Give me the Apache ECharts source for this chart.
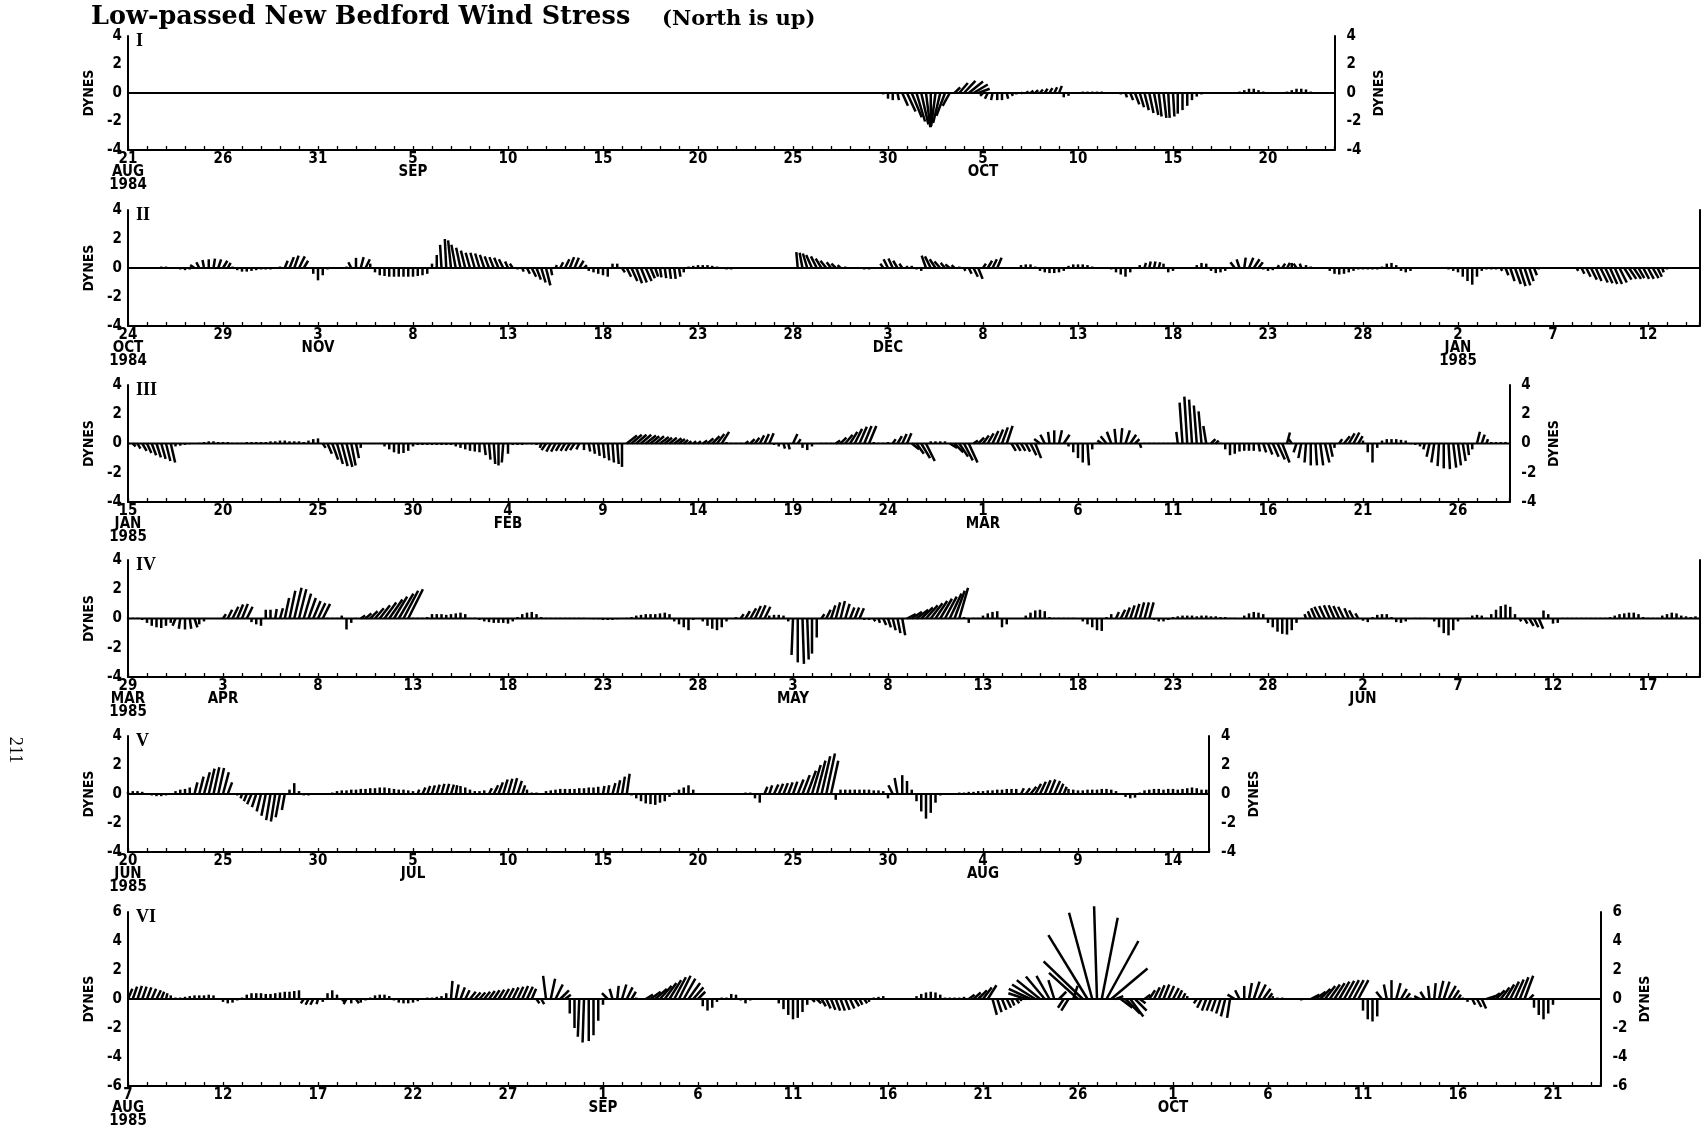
<!DOCTYPE html>
<html><head><meta charset="utf-8">
<script src="https://cdn.jsdelivr.net/npm/echarts/dist/echarts.min.js"></script>
<style>html,body{margin:0;padding:0;background:#fff}#c{width:1703px;height:1146px}</style>
</head><body><div id="c"></div>
<script>
// ---- DATA: low-passed wind stress, 6-hourly samples (v = north, u = east), dynes ----
const ticksI = ['21\nAUG\n1984','26','31','5\nSEP','10','15','20','25','30','5\nOCT','10','15','20'];
const ticksII = ['24\nOCT\n1984','29','3\nNOV','8','13','18','23','28','3\nDEC','8','13','18','23','28','2\nJAN\n1985','7','12'];
const ticksIII = ['15\nJAN\n1985','20','25','30','4\nFEB','9','14','19','24','1\nMAR','6','11','16','21','26'];
const ticksIV = ['29\nMAR\n1985','3\nAPR','8','13','18','23','28','3\nMAY','8','13','18','23','28','2\nJUN','7','12','17'];
const ticksV = ['20\nJUN\n1985','25','30','5\nJUL','10','15','20','25','30','4\nAUG','9','14'];
const ticksVI = ['7\nAUG\n1985','12','17','22','27','1\nSEP','6','11','16','21','26','1\nOCT','6','11','16','21'];

const vI = [
0,0,0,0,0,0,0,0,0,0,0,0,0,0,0,0,0,0,0,0,
0,0,0,0,0,0,0,0,0,0,0,0,0,0,0,0,0,0,0,0,
0,0,0,0,0,0,0,0,0,0,0,0,0,0,0,0,0,0,0,0,
0,0,0,0,0,0,0,0,0,0,0,0,0,0,0,0,0,0,0,0,
0,0,0,0,0,0,0,0,0,0,0,0,0,0,0,0,0,0,0,0,
0,0,0,0,0,0,0,0,0,0,0,0,0,0,0,0,0,0,0,0,
0,0,0,0,0,0,0,0,0,0,0,0,0,0,0,0,0,0,0,0,
0,0,0,0,0,0,0,0,0,0,0,0,0,0,0,0,
0,0,0,-0.1, -0.4,-0.5,-0.5,-0.9, -1.3,-1.7,-2.0,-2.2, -2.4,-2.4,-2.3,-2.1, -1.6,-0.9,0.4,0.7,
0.85,0.8,0.6,0.3, -0.2,-0.4,-0.5,-0.5, -0.5,-0.4,-0.2,-0.1, 0,0.1,0.15,0.2, 0.25,0.3,0.35,0.4,
0.5,-0.3,-0.2,0.05, 0.05,0.1,0.1,0.1, 0.1,0.1,0.05,0.05, 0,-0.1,-0.3,-0.5, -0.8,-1.0,-1.2,-1.4,
-1.55,-1.65,-1.75,-1.75, -1.65,-1.45,-1.2,-0.9, -0.5,-0.25,-0.1,-0.05, 0,0,0,0, 0,0,0.1,0.2,
0.3,0.3,0.2,0.1, 0,0,0,0, 0.1,0.2,0.3,0.3, 0.25,0.1,0,0, 0,0
];
const uI = [
0,0,0,0,0,0,0,0,0,0,0,0,0,0,0,0,0,0,0,0,
0,0,0,0,0,0,0,0,0,0,0,0,0,0,0,0,0,0,0,0,
0,0,0,0,0,0,0,0,0,0,0,0,0,0,0,0,0,0,0,0,
0,0,0,0,0,0,0,0,0,0,0,0,0,0,0,0,0,0,0,0,
0,0,0,0,0,0,0,0,0,0,0,0,0,0,0,0,0,0,0,0,
0,0,0,0,0,0,0,0,0,0,0,0,0,0,0,0,0,0,0,0,
0,0,0,0,0,0,0,0,0,0,0,0,0,0,0,0,0,0,0,0,
0,0,0,0,0,0,0,0,0,0,0,0,0,0,0,0,0,0,0,0,
0,0,0.1,0.4, 0.6,0.7,0.6,0.5, 0.3,0,-0.3,-0.5, -0.6,-0.5,0.4,0.6, 0.8,1.0,1.0,0.8,
-0.2,-0.2,-0.1,0, 0,0.1,0.1,0, 0.1,0.2,0.2,0.2, 0.2,0.2,0.2,0.2, 0.2,0,0,0,
0,0,0,0, 0,0,0,0, 0,0,0.1,0.2, 0.3,0.3,0.3,0.3, 0.3,0.2,0.2,0.1,
0.1,0,0,0, 0,0,0,0, 0,0,0,0, 0,0,0,0, 0,0,0,0,
0,0,0,0, 0,0,0,0, 0,0
];

const vII = [
0,0,0,0, 0,0,0.05,0.1, 0.1,0.05,0,-0.1, -0.15,-0.1,0.2,0.4, 0.55,0.6,0.65,0.6,
0.5,0.35,0.1,-0.15, -0.25,-0.25,-0.2,-0.15, -0.1,-0.1,-0.1,-0.05, 0.1,0.5,0.75,0.85, 0.8,0.5,0,-0.4,
-0.85,-0.5,-0.1,0, 0,0,0.1,0.4, 0.7,0.75,0.6,0.3, -0.3,-0.5,-0.55,-0.6, -0.6,-0.6,-0.6,-0.6,
-0.6,-0.55,-0.5,-0.4, 0.3,0.9,1.6,2.0, 1.9,1.6,1.4,1.2, 1.05,1.05,1.0,0.9, 0.8,0.75,0.7,0.6,
0.45,0.3,-0.1,-0.25, -0.4,-0.6,-0.8,-1.0, -1.2,-0.5,0.2,0.4, 0.6,0.75,0.7,0.5, 0.2,-0.2,-0.3,-0.4,
-0.5,-0.6,0.3,0.3, -0.3,-0.6,-0.9,-1.05, -1.0,-0.9,-0.7,-0.6, -0.65,-0.7,-0.75,-0.75, -0.6,-0.3,0.1,0.15,
0.2,0.2,0.2,0.15, 0.1,-0.05,-0.1,-0.1, -0.05,0,0.05,0.05, 0.05,0.05,0.05,0.05, 0.05,0.05,0.05,0.05,
0.05,1.1,1.05,1.0, 0.9,0.8,0.65,0.5, 0.4,0.3,0.2,0.1, 0,-0.05,-0.05,-0.1, -0.1,-0.05,0,0.3,
0.6,0.65,0.5,0.3, 0.15,0.15,-0.1,-0.2, 0.85,0.8,0.6,0.45, 0.35,0.25,0.2,0.1, -0.2,-0.4,-0.6,-0.75,
0.3,0.5,0.6,0.7, 0,0,0,0.05, 0.2,0.25,0.25,0.1, -0.2,-0.3,-0.35,-0.35, -0.3,-0.2,0.15,0.25,
0.25,0.25,0.2,0.1, 0.05,0.05,0.05,-0.1, -0.3,-0.45,-0.6,-0.3, 0,0.2,0.35,0.45, 0.45,0.4,0.3,-0.3,
-0.2,0,0,0, 0,0.2,0.35,0.3, -0.2,-0.35,-0.3,-0.2, 0,0.4,0.6,0.72, 0.7,0.6,0.4,-0.1,
-0.2,-0.15,0.2,0.3, 0.35,0.35,0.3,0.3, 0.2,0.1,0.05,0.05, 0.05,-0.2,-0.4,-0.45, -0.4,-0.3,-0.2,-0.1,
-0.1,-0.1,-0.1,-0.1, 0.1,0.3,0.35,0.2, -0.2,-0.3,-0.2,0, 0,0,0,0, 0,0,-0.1,-0.2,
-0.3,-0.6,-0.9,-1.15, -0.6,-0.2,-0.1,-0.1, -0.1,-0.2,-0.5,-0.9, -1.1,-1.25,-1.2,-0.9, -0.5,-0.1,-0.05,-0.05,
-0.05,-0.05,-0.05,-0.05, -0.05,-0.2,-0.4,-0.6, -0.8,-0.9,-1.0,-1.05, -1.1,-1.1,-1.0,-0.8, -0.75,-0.75,-0.7,-0.75,
-0.75,-0.7,-0.6,-0.3, -0.1,0.05,0.05,0.05, 0.05,0.05,0.05
];
const uII = [
0,0,0,0, 0,0,0,0, 0,0,0,0, 0,0,-0.3,-0.2, -0.1,0,0.1,0.2,
0.3,0.2,0,0, 0,0,0,0, 0,0,0,0, 0,0.2,0.3,0.3, 0.4,0.3,0,0,
0,0,0,0, 0,0,0,-0.2, 0,0.2,0.3,0, 0,0,0,0, 0,0,0,0,
0,0,0,0, 0,0,-0.1,-0.1, -0.2,-0.3,-0.3,-0.3, -0.3,-0.3,-0.3,-0.3, -0.3,-0.3,-0.3,-0.3,
-0.2,-0.2,0,0.1, 0.2,0.3,0.3,0.3, 0.3,0.1,0.1,0.2, 0.3,0.3,0.3,0.3, 0.2,0,0,0,
0,0,0,0, 0.2,0.3,0.4,0.4, 0.4,0.4,0.3,0.2, 0.1,0.1,0.1,0.1, 0.1,0,0,0,
0,0,0,0,0,0,0,0,0,0,0,0,0,0,0,0,0,0,0,0,
0,-0.1,-0.2,-0.3, -0.4,-0.4,-0.4,-0.4, -0.3,-0.3,-0.2,0, 0,0,0,0, 0,0,0,-0.2,
-0.3,-0.3,-0.3,-0.2, 0,0,0,0, -0.3,-0.4,-0.4,-0.4, -0.3,-0.3,-0.2,0, 0.1,0.2,0.3,0.3,
0.2,0.3,0.3,0.3, 0,0,0,0, 0,0,0,0, 0,0,0,0, 0,0,0,0,
0,0,0,0, 0,0,0,0, 0,0,0,0, 0,0,0.1,0.1, 0.1,0.1,0,0,
0,0,0,0, 0,0,0,0, 0,0,0,0, 0,-0.3,-0.2,0.1, 0.3,0.4,0.3,0,
0,0,0.1,0.2, 0.2,0,-0.2,-0.1, 0,0,0,0, 0,0,0,0, 0,0,0,0,
0,0,0,0,0,0,0,0,0,0,0,0,0,0,0,0,0,0,0,0,
0,0,0,0, 0,0,0,0, 0,0.1,0.2,0.3, 0.4,0.4,0.4,0.3, 0.2,0,0,0,
0,0,0,0, 0,0.1,0.2,0.3, 0.4,0.4,0.5,0.5, 0.5,0.5,0.5,0.5, 0.5,0.5,0.4,0.4,
0.4,0.4,0.3,0.1, 0,0,0,0, 0,0,0
];

const vIII = [
-0.05,-0.2,-0.35,-0.5, -0.65,-0.8,-0.95,-1.05, -1.2,-1.3,-0.2,-0.15, -0.1,-0.05,0,0.05, 0.1,0.15,0.15,0.1,
0.1,0.1,0.05,0.05, 0.05,0.1,0.1,0.1, 0.1,0.1,0.15,0.15, 0.2,0.2,0.15,0.15, 0.15,0.1,0.2,0.3,
0.35,-0.3,-0.7,-1.1, -1.4,-1.55,-1.6,-1.5, -1.0,-0.3,0,0, 0,0,-0.2,-0.4, -0.6,-0.7,-0.65,-0.5,
-0.2,-0.1,-0.1,-0.1, -0.1,-0.1,-0.1,-0.1, -0.1,-0.2,-0.3,-0.4, -0.5,-0.55,-0.6,-0.8, -1.1,-1.4,-1.5,-1.3,
-0.7,-0.1,-0.1,-0.1, -0.05,-0.05,-0.1,-0.3, -0.45,-0.55,-0.55,-0.5, -0.5,-0.5,-0.45,-0.4, -0.45,-0.55,-0.7,-0.85,
-1.0,-1.15,-1.3,-1.4, -1.6,0.55,0.6,0.6, 0.6,0.55,0.5,0.5, 0.45,0.4,0.4,0.35, 0.3,0.25,0.15,0.15,
0.15,0.2,0.35,0.5, 0.65,0.8,0.1,0.05, 0.05,0.05,0.15,0.3, 0.4,0.55,0.65,0.7, -0.1,-0.2,-0.35,-0.4,
0.65,0.3,-0.3,-0.45, -0.2,0,0.05,0.05, 0.05,0.2,0.4,0.6, 0.8,1.0,1.15,1.2, 1.2,0.1,0.05,0.05,
0.1,0.3,0.5,0.65, 0.7,-0.4,-0.7,-1.0, -1.2,0.15,0.15,0.15, 0.15,-0.3,-0.6,-0.9, -1.15,-1.3,0.2,0.4,
0.55,0.7,0.85,0.95, 1.1,1.2,-0.5,-0.5, -0.5,-0.55,-0.8,-1.0, 0.3,0.6,0.8,0.9, 0.9,0.6,-0.2,-0.6,
-1.0,-1.3,-1.5,-0.4, 0.05,0.2,0.5,0.8, 1.0,1.05,0.9,0.6, 0.3,-0.3,0.05,0.05, 0.05,0.05,0.05,0.05,
0.05,0.8,2.8,3.2, 3.0,2.6,2.2,1.2, 0.3,0.2,0.05,-0.4, -0.8,-0.7,-0.55,-0.5, -0.5,-0.5,-0.55,-0.6,
-0.75,-0.9,-1.1,-1.3, 0.75,0.3,-0.6,-1.0, -1.3,-1.5,-1.5,-1.5, -1.3,-0.9,-0.3,0.3, 0.5,0.7,0.75,0.5,
0.2,-0.6,-1.3,-0.3, 0.2,0.3,0.3,0.3, 0.25,0.2,-0.05,-0.1, -0.2,-0.4,-0.9,-1.3, -1.55,-1.7,-1.75,-1.65,
-1.5,-1.2,-0.8,-0.4, 0.8,0.6,0.3,0.1, 0.1,0.1,0.1
];
const uIII = [
0.1,0.2,0.2,0.3, 0.3,0.3,0.3,0.3, 0.3,0.3,0,0, 0,0,0,0, 0,0,0,0,
0,0,0,0,0,0,0,0,0,0,0,0,0,0,0,0,0,0,0,0,
0,0.2,0.3,0.4, 0.4,0.4,0.4,0.3, 0.2,0,0,0, 0,0,0,0, 0,0,0,0,
0,0,0,0, 0,0,0,0, 0,0,0,0, 0,0,0,0.1, 0.1,0.1,0,-0.1,
0,0,0,0, 0,0,0,-0.1, -0.3,-0.3,-0.3,-0.3, -0.3,-0.3,-0.3,-0.2, 0,0.1,0.1,0.1,
0.1,0.1,0.1,0.1, 0,0.7,0.7,0.7, 0.7,0.7,0.6,0.6, 0.6,0.5,0.5,0.5, 0.4,0.3,0.2,0.2,
0.2,0.3,0.4,0.5, 0.5,0.5,0,0, 0,0,0.2,0.3, 0.3,0.3,0.3,0.3, 0,0,0.1,0.1,
0.3,0.2,0,0, 0,0,0,0, 0,0.3,0.4,0.5, 0.5,0.5,0.5,0.5, 0.5,0,0,0,
0,0.2,0.3,0.3, 0.3,0.5,0.5,0.6, 0.6,0,0,0, 0,0.5,0.6,0.6, 0.6,0.6,0.3,0.4,
0.4,0.4,0.4,0.4, 0.4,0.4,0.3,0.3, 0.3,0.3,0.4,0.4, -0.4,-0.3,-0.1,0, 0.2,0.4,0,0,
0,0,0.1,0, 0,-0.3,-0.4,-0.3, -0.1,0.1,0.3,0.4, 0.3,0.1,0,0, 0,0,0,0,
0,-0.1,-0.2,-0.2, -0.2,-0.2,-0.2,-0.2, 0.3,0.2,0,0, 0,0,0,0, 0,0,0.1,0.2,
0.3,0.4,0.5,0.5, 0.2,-0.2,-0.2,-0.2, -0.1,0,0.1,0.2, 0.3,0.2,0,0.2, 0.4,0.4,0.4,0.3,
0,0,0,0, 0,0,0,0, 0,0,0,0, 0,-0.1,-0.2,-0.2, -0.1,0,0.1,0.2,
0.2,0.2,0.1,0, 0.2,0.2,0.1,0, 0,0,0
];

const vIV = [
0.05,0.05,0.05,-0.1, -0.3,-0.5,-0.6,-0.65, -0.5,-0.3,-0.5,-0.7, -0.75,-0.7,-0.6,-0.4, -0.2,0,0,0,
0.3,0.6,0.8,0.95, 1.0,0.8,-0.25,-0.4, -0.5,0.6,0.6,0.65, 0.7,1.4,1.9,2.1, 2.0,1.7,1.4,1.2,
1.05,1.0,0.05,0.05, 0.05,0.2,-0.75,-0.3, 0.05,0.2,0.35,0.5, 0.7,0.9,1.1,1.3, 1.5,1.7,1.9,2.0,
0.05,0.05,0.05,0.1, 0.3,0.3,0.3,0.25, 0.3,0.35,0.4,0.3, 0.05,0.05,-0.1,-0.2, -0.25,-0.3,-0.3,-0.3,
-0.35,-0.2,0.1,0.3, 0.4,0.45,0.3,0.1, 0.05,0.05,0.05,0.05, 0.05,0.05,0.05,0.05, 0.05,0,-0.05,-0.05,
-0.1,-0.1,-0.1,-0.05, 0,0.05,0.1,0.2, 0.25,0.3,0.3,0.3, 0.35,0.4,0.3,-0.2, -0.4,-0.6,-0.8,-0.1,
0,-0.2,-0.5,-0.7, -0.8,-0.6,-0.2,0, 0.1,0.3,0.5,0.7, 0.85,0.9,0.8,0.2, 0.25,0.25,0.2,-0.2,
-2.5,-3.0,-3.1,-2.8, -2.4,-1.3,0.3,0.6, 0.9,1.1,1.2,1.0, 0.75,0.75,0.7,-0.1, -0.1,-0.2,-0.3,-0.45,
-0.6,-0.8,-1.0,-1.15, 0.3,0.45,0.6,0.75, 0.9,1.05,1.2,1.35, 1.5,1.7,1.9,2.1, 0.1,-0.3,0.05,0.05,
0.2,0.35,0.45,0.5, -0.6,-0.4,0,0, 0,0.2,0.4,0.55, 0.6,0.5,0.1,0.05, 0.05,0.05,0.05,0.05,
0,-0.2,-0.4,-0.6, -0.8,-0.85,0.1,0.3, 0.45,0.6,0.75,0.9, 1.0,1.1,1.1,1.1, -0.1,-0.2,-0.2,-0.1,
0.1,0.15,0.2,0.2, 0.2,0.15,0.2,0.2, 0.15,0.15,0.1,0.1, 0.05,0.05,0,0.2, 0.35,0.45,0.4,0.3,
-0.3,-0.6,-0.9,-1.05, -1.1,-0.8,-0.3,0, 0.3,0.5,0.7,0.8, 0.85,0.9,0.9,0.85, 0.8,0.7,0.55,0.35,
-0.15,-0.25,0.1,0.25, 0.3,0.3,0.1,-0.25, -0.3,-0.2,0,0.05, 0.05,0.05,0,-0.2, -0.6,-1.0,-1.15,-0.8,
-0.2,0,0.05,0.2, 0.25,0.2,0.05,0.3, 0.6,0.85,0.95,0.8, 0.3,-0.2,-0.35,-0.5, -0.6,-0.7,0.55,0.3,
-0.35,-0.3,0.05,0.05, 0.05,0.05,0.05,0.05, 0.05,0.05,0.05,0.05, 0.1,0.2,0.3,0.35, 0.4,0.4,0.3,0.1,
0.05,0.05,0.05,0.2, 0.3,0.4,0.35,0.2, 0.15,0.1,0.15
];
const uIV = [
0,0,0,0, 0,0,0,0, 0,0,-0.2,-0.1, 0,0.1,0.2,0, 0,0,0,0,
0.2,0.3,0.4,0.4, 0.4,0.4,0,0, 0,0,0,0.1, 0.2,0.3,0.4,0.5, 0.5,0.5,0.5,0.5,
0.5,0.5,0,0, 0,0,0,0, 0,0.3,0.4,0.5, 0.6,0.7,0.8,0.9, 0.9,1.0,1.0,1.0,
0,0,0,0,0,0,0,0,0,0,0,0,0,0,0,0,0,0,0,0,
0,0,0,0,0,0,0,0,0,0,0,0,0,0,0,0,0,0,0,0,
0,0,0,0,0,0,0,0,0,0,0,0,0,0,0,0,0,0,0,0,
0,0,0,0, 0,0,0,0, 0,0.2,0.3,0.4, 0.4,0.4,0.4,0, 0,0,0,0,
-0.1,0,0.1,0.1, 0,0,0.2,0.3, 0.3,0.3,0.3,0.3, 0.3,0.3,0.3,0, 0,0.1,0.1,0.2,
0.2,0.2,0.2,0.2, 0.6,0.7,0.8,0.8, 0.8,0.8,0.8,0.8, 0.8,0.8,0.7,0.6, 0,0,0,0,
0,0,0,0,0,0,0,0,0,0,0,0,0,0,0,0,0,0,0,0,
0,0,0,0, 0,0,0,0, 0.2,0.3,0.3,0.3, 0.3,0.3,0.3,0.3, 0,0,0,0,
0,0,0,0,0,0,0,0,0,0,0,0,0,0,0,0,0,0,0,0,
0,0,0,0, 0,0,0,0, -0.1,-0.2,-0.3,-0.4, -0.4,-0.4,-0.4,-0.4, -0.4,-0.3,-0.3,-0.2,
0,0,0,0,0,0,0,0,0,0,0,0,0,0,0,0,0,0,0,0,
0,0,0,0, 0,0,0,0, 0,0,0,0, 0,0.1,0.2,0.3, 0.3,0.3,0,0,
0,0,0,0,0,0,0,0,0,0,0,0,0,0,0,0,0,0,0,0,
0,0,0,0, 0,0,0,0, 0,0,0
];

const vV = [
0.15,0.2,0.2,0.15, 0.05,-0.1,-0.15,-0.15, -0.1,0,0.2,0.3, 0.35,0.45,0.8,1.2, 1.5,1.75,1.85,1.8,
1.5,0.8,0.05,-0.1, -0.3,-0.5,-0.7,-0.9, -1.2,-1.5,-1.8,-1.9, -1.6,-1.1,0.3,0.75, 0.2,-0.1,-0.1,-0.05,
-0.05,0,0.05,0.1, 0.2,0.25,0.25,0.3, 0.3,0.35,0.35,0.4, 0.4,0.45,0.45,0.4, 0.35,0.3,0.3,0.25,
0.2,0.3,0.45,0.55, 0.6,0.65,0.7,0.7, 0.65,0.6,0.55,0.45, 0.3,0.2,0.2,0.25, 0.4,0.6,0.8,1.0,
1.05,1.1,0.9,0.6, 0.3,0.1,0.1,0.05, 0.2,0.25,0.3,0.35, 0.35,0.35,0.35,0.4, 0.4,0.45,0.45,0.5,
0.55,0.6,0.75,0.95, 1.2,1.4,-0.1,-0.3, -0.5,-0.65,-0.7,-0.75, -0.6,-0.5,-0.2,0.1, 0.3,0.45,0.6,0.3,
0.05,0.05,0.05,0.05, 0.05,0.05,0.05,0.05, 0.05,0.05,0.1,0.1, -0.3,-0.6,0.5,0.6, 0.65,0.7,0.75,0.8,
0.85,1.0,1.3,1.6, 2.0,2.3,2.6,2.8, 2.3,-0.4,0.3,0.3, 0.3,0.3,0.3,0.3, 0.3,0.25,0.25,0.2,
-0.3,0.6,1.1,1.3, 0.9,0.3,-0.5,-1.2, -1.7,-1.3,-0.6,-0.1, 0,0.05,0.05,0.1, 0.1,0.15,0.15,0.2,
0.2,0.25,0.25,0.3, 0.3,0.35,0.35,0.35, 0.4,0.4,0.5,0.7, 0.85,0.95,1.0,0.9, 0.7,0.5,0.35,0.3,
0.25,0.25,0.3,0.3, 0.3,0.35,0.35,0.3, 0.2,0.05,-0.2,-0.3, -0.25,0.1,0.25,0.3, 0.35,0.35,0.3,0.35,
0.35,0.3,0.35,0.4, 0.45,0.4,0.3,0.3
];
const uV = [
0,0,0,0, 0,0,0,0, 0,0,0,0, 0,0,0.2,0.3, 0.4,0.4,0.4,0.4,
0.4,0.3,0,0, -0.1,-0.2,-0.3,-0.3, -0.3,-0.3,-0.3,-0.3, -0.3,-0.2,0,0, 0,0,0,0,
0,0,0,0,0,0,0,0,0,0,0,0,0,0,0,0,0,0,0,0,
0,0.1,0.2,0.2, 0.2,0.2,0.2,0.2, 0.2,0.1,0,0, 0,0,0,0, 0.2,0.3,0.3,0.3,
0.3,0.3,0.3,0.2, 0,0,0,0, 0,0,0,0, 0,0,0,0, 0,0,0,0,
0.1,0.1,0.2,0.2, 0.2,0.2,0,0, 0,0,0,0, 0,0,0,0, 0,0,0,0,
0,0,0,0, 0,0,0,0, 0,0,0,0, 0,0,0.2,0.2, 0.3,0.3,0.3,0.3,
0.3,0.4,0.5,0.6, 0.6,0.6,0.6,0.6, 0.5,0,0,0, 0,0,0,0, 0,0,0,0,
0,-0.3,-0.2,0, 0,0,0,0, 0,0,0,0, 0,0,0,0, 0,0,0,0,
0,0,0,0, 0,0,0,0, 0.2,0.3,0.4,0.4, 0.4,0.4,0.4,0.4, 0.3,0.2,0,0,
0,0,0,0,0,0,0,0,0,0,0,0,0,0,0,0,0,0,0,0,
0,0,0,0, 0,0,0,0
];

const vVI = [
0.7,0.85,0.9,0.85, 0.8,0.7,0.6,0.5, 0.4,0.25,0.1,0.1, 0.15,0.2,0.25,0.25, 0.25,0.3,0.25,0,
-0.2,-0.3,-0.25,-0.1, 0.1,0.3,0.4,0.4, 0.4,0.35,0.35,0.4, 0.45,0.5,0.5,0.55, 0.6,-0.3,-0.4,-0.4,
-0.35,-0.2,0.4,0.6, 0.3,-0.2,-0.35,-0.3, -0.3,-0.25,-0.1,0.1, 0.25,0.3,0.3,0.2, -0.1,-0.25,-0.3,-0.3,
-0.25,-0.15,0.05,0.1, 0.1,0.15,0.2,0.4, 1.25,1.0,0.8,0.6, 0.5,0.45,0.45,0.5, 0.55,0.6,0.65,0.7,
0.75,0.8,0.85,0.9, 0.85,0.7,-0.3,-0.35, 1.6,1.4,1.0,0.6, 0.3,-1.0,-2.0,-2.6, -3.0,-2.9,-2.5,-1.5,
-0.4,0.4,0.7,0.9, 1.0,0.8,0.5,0.1, 0.05,0.3,0.5,0.7, 0.9,1.1,1.3,1.5, 1.6,1.4,1.1,0.8,
0.5,-0.5,-0.8,-0.6, -0.2,0.1,0.1,0.35, 0.3,-0.1,-0.3,-0.1, 0.05,0.05,0.05,0.05, 0.05,-0.3,-0.7,-1.1,
-1.4,-1.3,-0.9,-0.4, -0.2,-0.3,-0.5,-0.65, -0.75,-0.8,-0.8,-0.75, -0.65,-0.5,-0.4,-0.3, -0.2,0.1,0.15,0.2,
0.05,0.05,0.05,0.05, 0.05,0.05,0.2,0.35, 0.45,0.5,0.45,0.3, 0.1,0.1,0.1,0.1, 0.15,0.3,0.45,0.6,
0.8,0.95,-1.1,-0.9, -0.75,-0.6,-0.45,-0.3, -0.15,0.4,0.7,1.0, 1.3,1.55,1.6,1.3, 0.5,-0.6,-0.8,0.9,
1.8,2.6,4.4,5.95, 6.4,5.6,4.0,2.1, 0.2,-0.6,-1.0,-1.2, -0.8,-0.3,0.3,0.6, 0.8,0.95,1.0,0.9,
0.75,0.6,0.4,0.2, 0.05,-0.3,-0.6,-0.8, -0.8,-0.85,-1.0,-1.2, -1.3,0.3,0.6,0.9, 1.1,1.2,1.0,0.7,
0.4,0.2,0.1,0.1, 0.05,0.05,-0.05,-0.1, 0.05,0.3,0.5,0.7, 0.9,1.0,1.1,1.2, 1.25,1.3,1.3,1.3,
-0.8,-1.4,-1.55,-1.2, 0.5,1.0,1.3,1.1, 0.7,0.4,0.1,0.05, 0.2,0.5,0.9,1.1, 1.25,1.2,0.9,0.6,
0.3,0.1,-0.2,-0.4, -0.55,-0.65,0.2,0.4, 0.6,0.8,1.0,1.2, 1.35,1.5,1.6,0.3, -0.6,-1.1,-1.4,-1.0,
-0.4,0.05,0.05,0.05, 0.05,0.05,0.05,0.05, 0.05,0.05
];
const uVI = [
0.3,0.3,0.3,0.3, 0.3,0.3,0.3,0.2, 0.1,0,0,0, 0,0,0,0, 0,0,0,0,
0,0,0,0, 0,0,0,0, 0,0,0,0, 0,0,0,0, 0,-0.2,-0.2,-0.2,
-0.1,0,0,0, 0,0.2,-0.2,0, 0.2,0,0,0, 0,0,0,0, 0,0,0,0,
0,0,0,0, 0,0,0,0, 0.1,0.2,0.3,0.3, 0.4,0.4,0.4,0.4, 0.4,0.4,0.4,0.4,
0.4,0.4,0.4,0.4, 0.4,0.3,0.2,0.2, -0.2,0.3,0.5,0.6, 0.4,0,0,-0.1, -0.1,0,0,0,
0,-0.4,-0.2,0.1, 0.3,0.4,0.3,0, 0,0.5,0.7,0.8, 0.8,0.8,0.8,0.8, 0.8,0.8,0.8,0.7,
0.5,0,0,0, 0,0,0,0, 0,0,0,0, 0,0,0,0, 0,0,0,0,
0,0,0,0, 0.2,0.3,0.3,0.3, 0.3,0.3,0.3,0.3, 0.3,0.3,0.2,0.2, 0,0,0,0,
0,0,0,0, 0,0,0,0, 0,0,0,0, 0,0,0,0, 0,0.4,0.5,0.6,
0.6,0.6,0.3,0.3, 0.3,0.3,0.2,0.2, 0,-1.2,-1.5,-1.6, -1.6,-1.3,-0.9,-0.4, 0.5,-0.4,-0.5,0.3,
-2.0,-2.7,-2.7,-1.6, -0.2,1.1,2.2,2.5, 0.5,0.8,1.0,0.9, 0.8,0.4,0.4,0.4, 0.4,0.4,0.4,0.4,
0.4,0.3,0.2,0, 0,-0.2,-0.3,-0.3, -0.3,-0.3,-0.3,-0.3, -0.2,-0.5,-0.3,0, 0.2,0.4,0.5,0.5,
0.3,0,0,0, 0,0,0,0, 0,0.6,0.7,0.7, 0.7,0.7,0.7,0.7, 0.7,0.7,0.7,0.7,
0,0,0,0, -0.4,-0.2,0,0.3, 0.4,0.3,0,0, -0.4,-0.3,-0.1,0.1, 0.3,0.4,0.5,0.4,
0.2,0,0,0.2, 0.3,0.3,0.6,0.6, 0.6,0.6,0.6,0.6, 0.6,0.6,0.6,0.3, 0,0,0,0,
0,0,0,0, 0,0,0,0, 0,0
];

// ---- layout ----
const STEP = 0.25;          // days between samples (6-hourly)
const LEFT = 128, PX_PER_DAY = 19.0;
const SANS = '"Liberation Sans Narrow","DejaVu Sans Condensed","Liberation Sans",Arial,sans-serif';
const SERIF = '"DejaVu Serif","Liberation Serif",serif';
const panels = [
  {roman:'I',   v:vI,   u:uI,   ticks:ticksI,   len:63.5, top:36,  height:114, ymax:4, rightLabels:true},
  {roman:'II',  v:vII,  u:uII,  ticks:ticksII,  len:82.7, top:210, height:116, ymax:4, rightLabels:false},
  {roman:'III', v:vIII, u:uIII, ticks:ticksIII, len:72.7, top:385, height:117, ymax:4, rightLabels:true},
  {roman:'IV',  v:vIV,  u:uIV,  ticks:ticksIV,  len:82.7, top:560, height:117, ymax:4, rightLabels:false},
  {roman:'V',   v:vV,   u:uV,   ticks:ticksV,   len:56.9, top:736, height:116, ymax:4, rightLabels:true},
  {roman:'VI',  v:vVI,  u:uVI,  ticks:ticksVI,  len:77.5, top:912, height:174, ymax:6, rightLabels:true}
];

function renderStick(params, api) {
  const t = api.value(0), u = api.value(1), v = api.value(2);
  const o = api.coord([t, 0]);
  const tip = api.coord([t, v]);
  const unit = o[1] - api.coord([t, 1])[1];   // pixels per dyne (isotropic sticks)
  return {type:'line', silent:true,
    shape:{x1:o[0], y1:o[1], x2:o[0] + u * unit, y2:tip[1]},
    style:{stroke:'#000', lineWidth:2.5, lineCap:'butt'}};
}

const grids = [], xAxes = [], yAxes = [], series = [], graphics = [];
const labelStyle = {color:'#000', fontFamily:SANS, fontWeight:'bold', fontSize:15};
panels.forEach((p, i) => {
  grids.push({left:LEFT, top:p.top, width:p.len * PX_PER_DAY, height:p.height, containLabel:false, outerBoundsMode:'none'});
  xAxes.push({gridIndex:i, type:'value', min:0, max:p.len, interval:1,
    axisLine:{show:true, onZero:false, lineStyle:{color:'#000', width:2}},
    axisTick:{show:true, inside:true, length:4, lineStyle:{color:'#000', width:1.3}},
    axisLabel:Object.assign({}, labelStyle, {lineHeight:13, margin:3,
      formatter: val => {
        const k = Math.round(val / 5);
        return (Math.abs(val - k * 5) < 1e-6 && p.ticks[k] !== undefined) ? p.ticks[k] : '';
      }}),
    splitLine:{show:false}});
  const yl = yAxes.length;
  yAxes.push({gridIndex:i, type:'value', position:'left', min:-p.ymax, max:p.ymax, interval:2,
    axisLine:{show:true, onZero:false, lineStyle:{color:'#000', width:2}}, axisTick:{show:false},
    axisLabel:Object.assign({}, labelStyle, {margin:6}), splitLine:{show:false},
    name:'DYNES', nameLocation:'middle', nameRotate:90, nameGap:30,
    nameTextStyle:{color:'#000', fontFamily:SANS, fontWeight:'bold', fontSize:14}});
  yAxes.push({gridIndex:i, type:'value', position:'right', min:-p.ymax, max:p.ymax, interval:2,
    axisLine:{show:true, onZero:false, lineStyle:{color:'#000', width:2}}, axisTick:{show:false},
    axisLabel:Object.assign({}, labelStyle, {show:p.rightLabels, margin:12}), splitLine:{show:false},
    name:p.rightLabels ? 'DYNES' : '', nameLocation:'middle', nameRotate:90, nameGap:38,
    nameTextStyle:{color:'#000', fontFamily:SANS, fontWeight:'bold', fontSize:14}});
  series.push({type:'custom', xAxisIndex:i, yAxisIndex:yl, renderItem:renderStick, clip:false, silent:true,
    encode:{x:0, y:2}, data:p.v.map((vv, k) => [k * STEP, p.u[k], vv])});
  series.push({type:'line', xAxisIndex:i, yAxisIndex:yl, data:[[0, 0], [p.len, 0]], symbol:'none', silent:true,
    lineStyle:{color:'#000', width:2}});
  graphics.push({type:'text', left:LEFT + 8, top:p.top - 4,
    style:{text:p.roman, fontFamily:'"Liberation Serif",serif', fontWeight:'bold', fontSize:18, fill:'#000'}});
});
graphics.push({type:'text', left:91, top:4,
  style:{text:'Low-passed New Bedford Wind Stress', fontFamily:SERIF, fontWeight:'bold', fontSize:25.5, fill:'#000'}});
graphics.push({type:'text', left:662, top:9,
  style:{text:'(North is up)', fontFamily:SERIF, fontWeight:'bold', fontSize:21, fill:'#000'}});
graphics.push({type:'text', x:15, y:750, rotation:-Math.PI / 2,
  style:{text:'211', fontFamily:'"Liberation Serif",serif', fontSize:18, fill:'#000', align:'center', verticalAlign:'middle'}});

const chart = echarts.init(document.getElementById('c'), null, {renderer:'canvas'});
chart.setOption({backgroundColor:'#fff', animation:false, grid:grids, xAxis:xAxes, yAxis:yAxes, series:series, graphic:graphics});
</script>
</body></html>
